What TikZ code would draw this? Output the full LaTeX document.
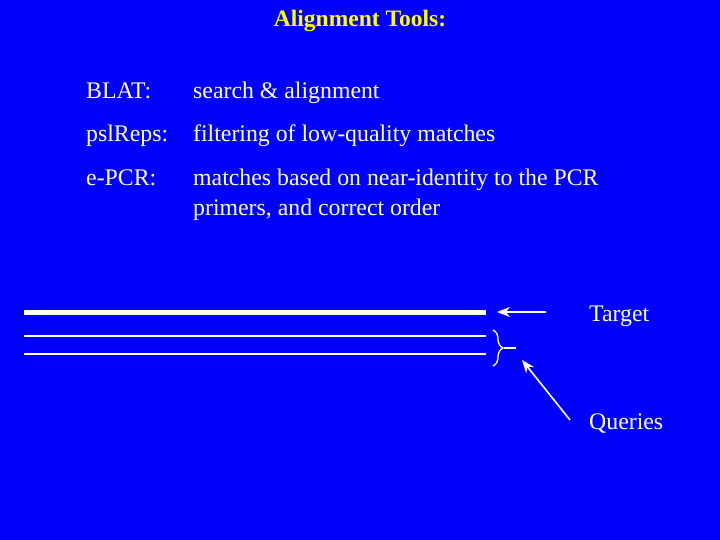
\documentclass[tikz,border=0pt]{standalone}
\usepackage{fontspec}
\setmainfont{Liberation Serif}
\usetikzlibrary{arrows.meta,decorations.pathreplacing}
\definecolor{bg}{RGB}{0,0,255}
\definecolor{ttl}{RGB}{255,255,0}
\tikzset{txt/.style={text=white,anchor=base west,inner sep=0pt,font=\fontsize{23.8}{29}\selectfont},
ln/.style={draw=white,line width=1.3pt},
arr/.style={draw=white,line width=1.6pt,-{Stealth[length=13pt,width=10pt]}}}
\begin{document}
\begin{tikzpicture}[x=1pt,y=-1pt]
\fill[bg] (0,0) rectangle (720,540);
\useasboundingbox (0,0) rectangle (720,540);
\node[anchor=base,text=ttl,inner sep=0pt,font=\bfseries\fontsize{23.5}{28}\selectfont] (title) at (360,27) {Alignment Tools:};
\node[txt] (l1) at (86,99) {BLAT:};
\node[txt] (d1) at (193,99) {search \& alignment};
\node[txt] (l2) at (86,142) {psl\-Reps:};
\node[txt] (d2) at (193,142) {filtering of low-quality matches};
\node[txt] (l3) at (86,186) {e-PCR:};
\node[txt] (d3) at (193,186) {matches based on near-identity to the PCR};
\node[txt] (d3b) at (193,215) {primers, and correct order};
\node[txt] (tg) at (589,321) {Target};
\node[txt] (qr) at (589,429) {Queries};
\coordinate (t0) at (24,312); \coordinate (t1) at (486,312);
\draw[white,line width=5pt] (t0) -- (t1);
\coordinate (q0) at (24,336); \coordinate (q1) at (486,336);
\coordinate (r0) at (24,354); \coordinate (r1) at (486,354);
\draw[ln] (q0) -- (q1); \draw[ln] (r0) -- (r1);
\coordinate (a0) at (546,312); \coordinate (a1) at (497,312);
\draw[arr] (a0) -- (a1);
\draw[ln,decorate,decoration={brace,amplitude=10pt}] (493,330) -- (493,366);
\coordinate (bt) at (504,348); \coordinate (bt2) at (516,348);
\draw[ln] (bt) -- (bt2);
\coordinate (b0) at (570,420); \coordinate (b1) at (522,360);
\draw[arr] (b0) -- (b1);
\end{tikzpicture}
\end{document}
